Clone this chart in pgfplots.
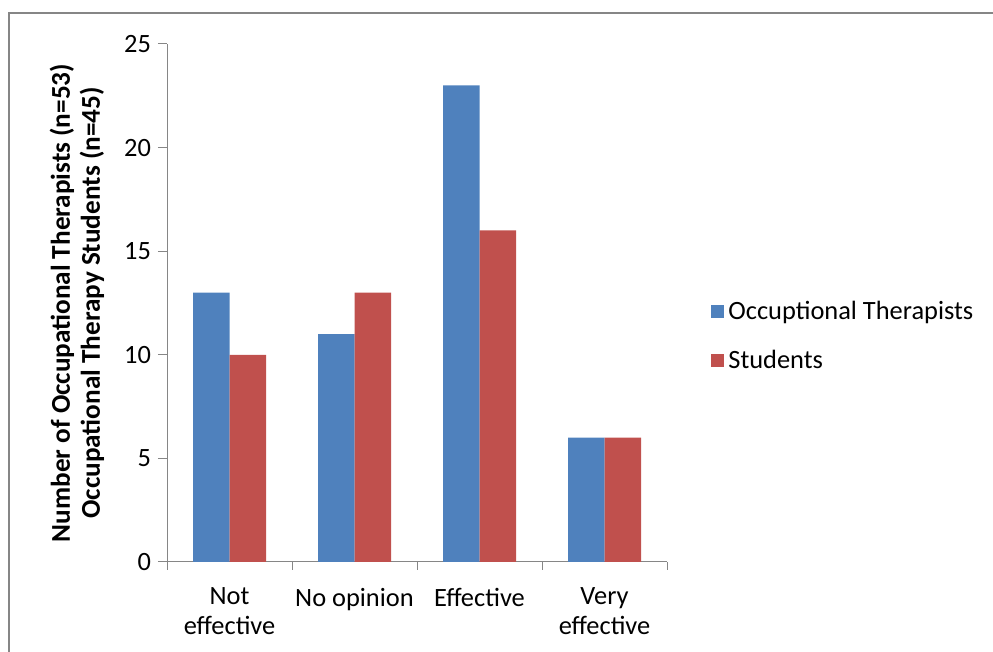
\documentclass[border=0pt]{standalone}
\usepackage{fontspec}
\setmainfont{Carlito}
\usepackage{pgfplots}
\pgfplotsset{compat=1.18}

\definecolor{otblue}{HTML}{4F81BD}
\definecolor{stred}{HTML}{C0504D}
\definecolor{axisgray}{HTML}{868686}

\newcommand{\chartfont}{\fontsize{13.2}{14.5}\selectfont}

\begin{document}
\begin{tikzpicture}
% canvas and chart-area frame (1px = 0.5pt)
\useasboundingbox (0,0) rectangle (496.5pt,326pt);
\draw[line width=1pt, axisgray] (4.5pt,0) -- (4.5pt,319.5pt) -- (496.5pt,319.5pt);

\begin{axis}[
    at={(83.5pt,45pt)}, anchor=south west,
    scale only axis,
    width=250pt, height=259pt,
    ybar=0pt, bar width=18.25pt,
    xmin=-0.5, xmax=3.5,
    ymin=0, ymax=25,
    xtick={0,1,2,3},
    xticklabels={{Not\\effective}, {No opinion}, {Effective}, {Very\\effective}},
    minor xtick={-0.5,0.5,1.5,2.5,3.5},
    ytick={0,5,10,15,20,25},
    axis lines*=left,
    axis line style={draw=axisgray, line width=0.5pt},
    tick style={draw=axisgray, line width=0.5pt},
    major x tick style={draw=none},
    tick align=outside,
    major tick length=4.5pt,
    minor tick length=4pt,
    /pgf/number format/assume math mode=true,
    tick label style={font=\chartfont},
    x tick label style={align=center, font=\fontsize{13.2}{15}\selectfont, yshift=-5pt},
    ylabel={Number of Occupational Therapists (n=53)\\Occupational Therapy Students (n=45)},
    ylabel style={at={(axis description cs:-0.18,0.5)}, anchor=center,
        align=center, font=\fontsize{13.6}{15}\selectfont\bfseries},
    legend style={at={(axis description cs:1.076,0.436)}, anchor=west,
        draw=none, fill=none, font=\chartfont, row sep=10pt},
    legend cell align=left,
    legend image code/.code={\fill[#1] (0pt,-3.25pt) rectangle (6.5pt,3.25pt);},
]
\addplot[fill=otblue, draw=none] coordinates {(0,13) (1,11) (2,23) (3,6)};
\addplot[fill=stred, draw=none] coordinates {(0,10) (1,13) (2,16) (3,6)};
\legend{Occuptional Therapists, Students}
\end{axis}
\end{tikzpicture}
\end{document}
